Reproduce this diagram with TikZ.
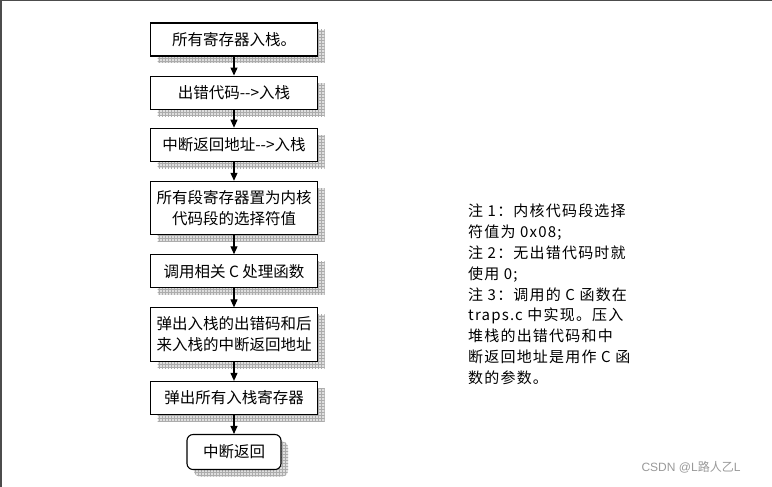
\documentclass[tikz,border=0pt]{standalone}
\usepackage{fontspec}
\setmainfont{Noto Sans CJK SC}
\newfontfamily\markfont{Liberation Sans}
\newfontfamily\notefont[LetterSpace=8]{Noto Sans CJK SC}
\usetikzlibrary{positioning,arrows.meta,shadows,patterns}

\tikzset{
  stepbox/.style={draw, line width=1.1pt, fill=white, minimum width=167pt,
    minimum height=33pt, inner ysep=9pt, align=center,
    font=\fontsize{15.5}{21}\selectfont,
    general shadow={shadow xshift=7pt, shadow yshift=-7pt, fill=gray!25},
    general shadow={shadow xshift=7pt, shadow yshift=-7pt, pattern=grid, pattern color=gray!65}},
  endbox/.style={stepbox, rounded corners=6pt, minimum width=94pt, minimum height=35pt},
  flow/.style={-{Triangle[width=7pt,length=8pt]}, line width=1.1pt},
}

\begin{document}
\begin{tikzpicture}[x=1pt, y=1pt, node distance=19pt]
  \useasboundingbox (0,0) rectangle (772,-487);
  \draw[line width=1.5pt, black!70] (0.75,-487) -- (0.75,-0.75) -- (772,-0.75);

  % flow of the handler
  \node[stepbox] (push) at (234,-39.5) {所有寄存器入栈。};
  \node[stepbox, below=of push] (errcode) {出错代码-{}-{}>入栈};
  \node[stepbox, below=18pt of errcode] (retaddr) {中断返回地址-{}-{}>入栈};
  \node[stepbox, below=of retaddr] (segsel) {所有段寄存器置为内核\\代码段的选择符值};
  \node[stepbox, below=of segsel] (callc) {调用相关 C 处理函数};
  \node[stepbox, below=of callc] (popargs) {弹出入栈的出错码和后\\来入栈的中断返回地址};
  \node[stepbox, below=of popargs] (popregs) {弹出所有入栈寄存器};
  \node[endbox, below=of popregs] (iret) {中断返回};

  \foreach \a/\b in {push/errcode, errcode/retaddr, retaddr/segsel, segsel/callc,
                     callc/popargs, popargs/popregs, popregs/iret}
    \draw[flow] (\a) -- (\b);

  % side notes
  \node[anchor=north west, inner sep=0pt, align=left,
        font=\fontsize{15}{20.8}\notefont] (notes) at (468,-204)
    {注 1：内核代码段选择\\
     符值为 0x08;\\
     注 2：无出错代码时就\\
     使用 0;\\
     注 3：调用的 C 函数在\\
     traps.c 中实现。压入\\
     堆栈的出错代码和中\\
     断返回地址是用作 C 函\\
     数的参数。};

  \node[text=gray!80, font=\fontsize{12}{14}\selectfont] (mark) at (691,-467)
    {\markfont CSDN @L\normalfont 路人乙\markfont L};
\end{tikzpicture}
\end{document}
